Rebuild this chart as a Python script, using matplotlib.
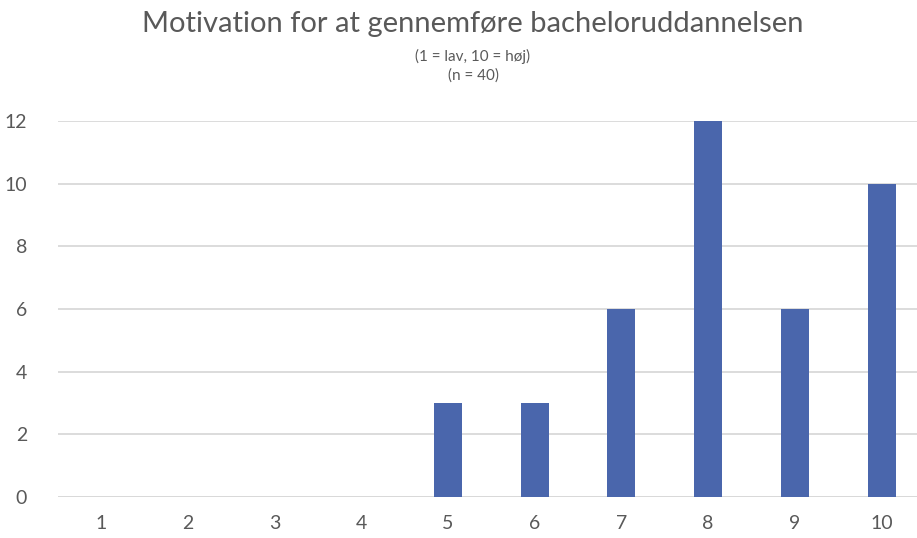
import matplotlib
matplotlib.use("Agg")
import matplotlib.pyplot as plt

categories = ["1", "2", "3", "4", "5", "6", "7", "8", "9", "10"]
values = [0, 0, 0, 0, 3, 3, 6, 12, 6, 10]
yticks = [0, 2, 4, 6, 8, 10, 12]

plt.rcParams['font.family'] = ['Lato', 'DejaVu Sans']
txt = "#595959"

fig = plt.figure(figsize=(9.17, 5.38), dpi=100)
W, H = 917, 538
left, right, bottom, top = 57.5, 925, 497, 121
ax = fig.add_axes([left / W, (H - bottom) / H, (right - left) / W, (bottom - top) / H])

x = list(range(len(categories)))
ax.bar(x, values, width=0.32, color="#4a66ac", zorder=3)
ax.set_xlim(-0.5, len(categories) - 0.5)
ax.set_ylim(0, 12)
ax.set_yticks(yticks)
ax.set_xticks(x)
ax.set_xticklabels(categories)
ax.yaxis.grid(True, color="#d9d9d9", linewidth=1.3, zorder=0)
ax.set_axisbelow(True)
for s in ax.spines.values():
    s.set_visible(False)
ax.tick_params(axis='both', length=0, labelsize=14, colors=txt)
ax.tick_params(axis='x', pad=13)
ax.tick_params(axis='y', pad=22)
ax.axhline(0, color="#d9d9d9", linewidth=1.3, zorder=1)

cx = 473 / W
fig.text(cx, 1 - 24 / H, "Motivation for at gennemføre bacheloruddannelsen",
         ha='center', va='center', fontsize=21, color=txt)
fig.text(cx, 1 - 56 / H, "(1 = lav, 10 = høj)", ha='center', va='center', fontsize=11, color=txt)
fig.text(cx, 1 - 76 / H, "(n = 40)", ha='center', va='center', fontsize=11, color=txt)

fig.savefig("out.png", dpi=100)
